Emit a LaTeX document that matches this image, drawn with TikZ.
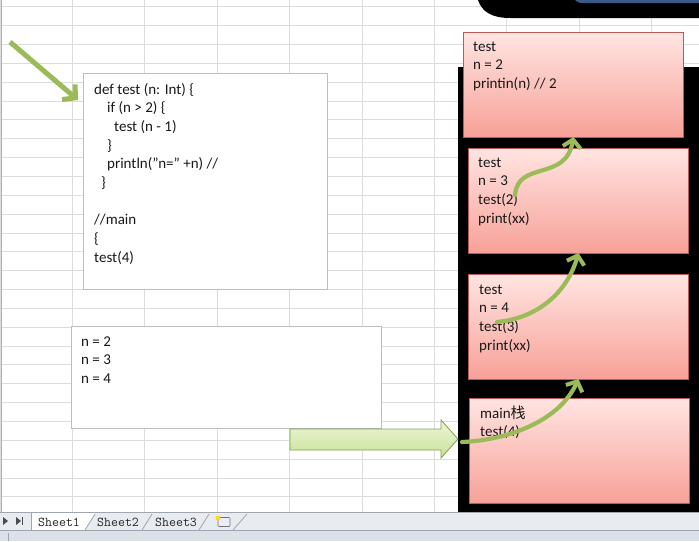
\documentclass[tikz,border=0pt]{standalone}
\usepackage{fontspec}
\setmainfont{Carlito}
\newfontfamily\cjk{Noto Sans CJK SC}
\usetikzlibrary{arrows.meta}
\definecolor{gridline}{HTML}{DADCDE}
\definecolor{boxline}{HTML}{BDBDBD}
\definecolor{pinktop}{HTML}{FFE4E1}
\definecolor{pinkbot}{HTML}{F7A198}
\definecolor{frameline}{HTML}{BC5A55}
\definecolor{leaf}{HTML}{9BBB59}
\definecolor{leaflight}{HTML}{EEF6D9}
\definecolor{leafmid}{HTML}{C8E196}
\definecolor{tabbar}{HTML}{E8EBEF}
\definecolor{statusbar}{HTML}{DCE1E8}
\definecolor{tabline}{HTML}{9FA6AE}
\definecolor{navy}{HTML}{3B5A85}
% a block of lines whose baseline is that of its first line
\newcommand\linesblock[1]{\begin{tabular}[t]{@{}l@{}}#1\end{tabular}}
\tikzset{
  textbox/.style={draw=boxline, fill=white, line width=0.8pt, anchor=north west, inner sep=0pt},
  frame/.style={draw=frameline, line width=0.9pt, top color=pinktop, bottom color=pinkbot,
                anchor=north west, inner sep=0pt, minimum width=220, minimum height=105},
  txt/.style={anchor=base west, inner sep=0pt, text=black!90,
              font=\fontsize{15}{18.7}\selectfont},
  callarrow/.style={draw=leaf, line width=4.2pt, line cap=round,
                    -{Straight Barb[length=8pt,width=18pt,line width=4pt]}},
  pointer/.style={draw=leaf, line width=5pt,
                  -{Straight Barb[length=9pt,width=20pt,line width=5pt]}},
  tablabel/.style={anchor=base west, inner sep=0pt, font=\ttfamily\fontsize{13.5}{15}\selectfont, text=black!85},
}
\begin{document}
\begin{tikzpicture}[x=1pt, y=-1pt]
\useasboundingbox (0,0) rectangle (699,541);
\fill[white] (0,0) rectangle (699,541);

% worksheet grid
\foreach \k in {0,...,26} \draw[gridline, line width=0.8pt] (0,6.7+18.85*\k) -- (699,6.7+18.85*\k);
\foreach \c in {0,...,9} \draw[gridline, line width=0.8pt] (72.4*\c,0) -- (72.4*\c,512);
\draw[gridline!80!black, line width=1pt] (1,0) -- (1,512);

% window corner at the top right
\fill[black] (478,0) .. controls (482,12) and (492,18) .. (510,18) -- (699,18) -- (699,0) -- cycle;
\fill[navy] (575,0) .. controls (577,2) and (579,3) .. (583,3) -- (699,3) -- (699,0) -- cycle;

% stack area
\fill[black] (458,67) rectangle (699,512);

% source code
\node[textbox, minimum width=244, minimum height=216] (code) at (83,73) {};
\node[txt] (codetext) at (94,94) {\linesblock{def test (n: Int) \{\\
\hspace*{13pt}if (n > 2) \{\\
\hspace*{20pt}test (n - 1)\\
\hspace*{13pt}\}\\
\hspace*{13pt}println("n=" +n) //\\
\hspace*{7pt}\}\\
\\
//main\\
\{\\
test(4)}};

% console output
\node[textbox, minimum width=310, minimum height=102] (out) at (71,326) {};
\node[txt] (outtext) at (81,346) {\linesblock{n = 2\\ n = 3\\ n = 4}};

% stack frames
\node[frame] (f1) at (463,32) {};
\node[txt] (t1) at (473,51) {\linesblock{test\\ n = 2\\ printin(n) // 2}};
\node[frame] (f2) at (468,148) {};
\node[txt] (t2) at (478,167) {\linesblock{test\\ n = 3\\ test(2)\\ print(xx)}};
\node[frame] (f3) at (468,274) {};
\node[txt] (t3) at (479,294) {\linesblock{test\\ n = 4\\ test(3)\\ print(xx)}};
\node[frame] (f4) at (469,398) {};
\node[txt] (t4) at (480,418) {\linesblock{main{\cjk 栈}\\ test(4)}};

% entry arrow into main
\draw[draw=leaf!85!black, line width=0.8pt, top color=leaflight, bottom color=leafmid]
  (290,429) -- (441,429) -- (441,420) -- (458,439) -- (441,458) -- (441,450) -- (290,450) -- cycle;

% call arrows between frames
\coordinate (c4) at (462,442);
\coordinate (c3) at (497,322);
\coordinate (c2) at (515,195);
\draw[callarrow] (c4) .. controls (510,440) and (560,420) .. ([yshift=1pt]f3.south);
\draw[callarrow] (c3) .. controls (540,318) and (568,290) .. ([yshift=1pt]f2.south);
\draw[callarrow] (c2) .. controls (518,160) and (566,182) .. ([yshift=1pt]f1.south);

% pointer to the code
\coordinate (ptr) at (10,42);
\draw[pointer] (ptr) -- ([shift={(-5,27)}]code.north west);

% sheet tabs
\fill[tabbar] (0,512) rectangle (699,530);
\draw[tabline, line width=0.8pt] (0,512.5) -- (699,512.5);
\fill[white] (31,513) -- (95,513) -- (85,530) -- (31,530) -- cycle;
\draw[tabline, line width=0.8pt] (31,513) -- (31,530);
\draw[tabline, line width=0.8pt] (85,530) -- (95,514) (142,530) -- (152,514) (199,530) -- (209,514) (233,530) -- (247,514);
\fill[black!70] (3,517) -- (8,521) -- (3,525) -- cycle;
\fill[black!70] (16,517) -- (21,521) -- (16,525) -- cycle;
\draw[black!70, line width=1pt] (22,517) -- (22,525);
\node[tablabel] (s1) at (38,526) {Sheet1};
\node[tablabel] (s2) at (97,526) {Sheet2};
\node[tablabel] (s3) at (155,526) {Sheet3};
\node[draw=black!55, fill=blue!8, line width=0.7pt, minimum width=12, minimum height=9, inner sep=0pt, rounded corners=1pt] (newsheet) at (224,522) {};
\fill[yellow!80!orange] (218,518) circle (2.5pt);

% status bar
\fill[statusbar] (0,530) rectangle (699,541);
\draw[tabline, line width=0.8pt] (0,530.5) -- (699,530.5);
\draw[tabline, line width=0.8pt] (8,533) -- (8,541);
\end{tikzpicture}
\end{document}
